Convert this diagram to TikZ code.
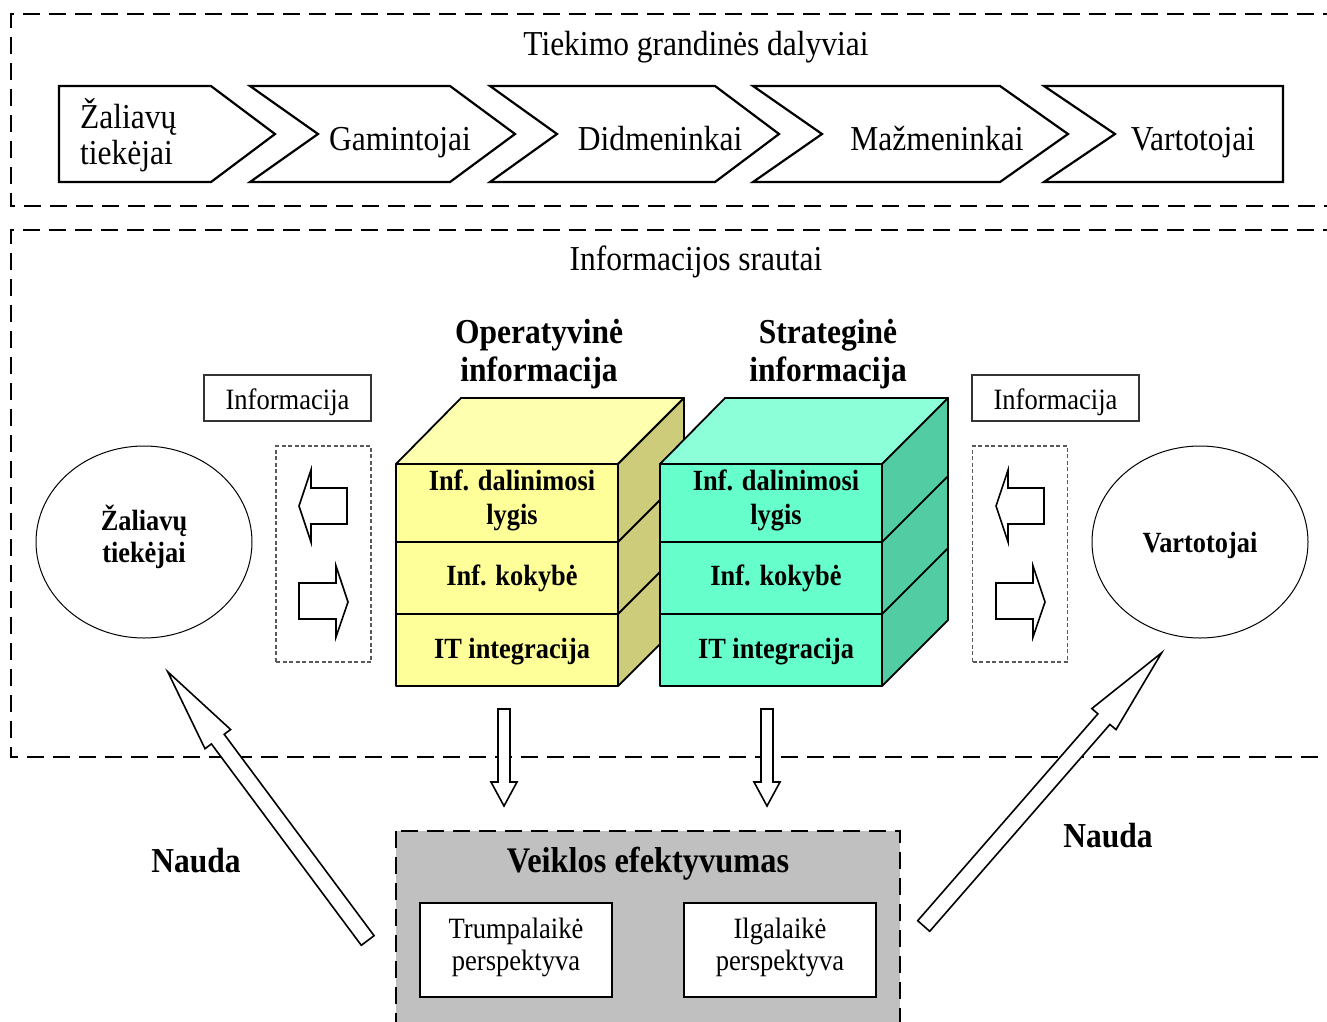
\documentclass[tikz,border=0pt]{standalone}
\usepackage{fontspec}
\setmainfont{Liberation Serif}
\newfontfamily\narrowserif[FakeStretch=0.9]{Liberation Serif}
\usetikzlibrary{shapes.geometric}
\definecolor{opfront}{HTML}{FFFF99}
\definecolor{optop}{HTML}{FFFFB0}
\definecolor{opside}{HTML}{CCCC7A}
\definecolor{stfront}{HTML}{66FFCC}
\definecolor{sttop}{HTML}{8CFFD9}
\definecolor{stside}{HTML}{52CCA3}
\definecolor{perfgray}{HTML}{C0C0C0}
\begin{document}
\begin{tikzpicture}[x=1pt,y=-1pt,
  bigdash/.style={line width=2.4pt, dash pattern=on 17pt off 9pt},
  thindash/.style={draw=black!65, line width=1.1pt, dash pattern=on 4pt off 2.5pt},
  chev/.style={draw=black, line width=2.2pt, fill=white, line join=miter},
  bigtxt/.style={font=\narrowserif\fontsize{35}{40}\selectfont, inner sep=0pt, align=center},
  chevtxt/.style={font=\narrowserif\fontsize{35}{40}\selectfont, inner sep=0pt, anchor=base},
  smalltxt/.style={font=\narrowserif\fontsize{29.5}{35}\selectfont, inner sep=0pt, align=center},
  boldbig/.style={font=\narrowserif\fontsize{35}{38}\selectfont\bfseries, inner sep=0pt, align=center},
  boldsmall/.style={font=\narrowserif\fontsize{29.3}{34}\selectfont\bfseries, inner sep=0pt, align=center},
  cubeline/.style={draw=black, line width=1.8pt, line join=round},
  blockarrow/.style={draw=black, line width=1.6pt, fill=white, line join=miter},
  infobox/.style={draw=black!80, line width=1.1pt, minimum width=167pt, minimum height=46pt, inner sep=0pt},
  partyellipse/.style={draw=black, line width=1pt, ellipse, minimum width=216pt, minimum height=192pt, inner sep=0pt},
  perspbox/.style={draw=black, line width=2pt, fill=white, minimum width=192pt, minimum height=94pt, inner sep=0pt},
]
\clip (0,0) rectangle (1327,1021);
\fill[white] (0,0) rectangle (1327,1021);

% --- supply chain participants ---
\draw[bigdash] (1340,14) -- (11,14) -- (11,206) -- (1340,206);
\node[bigtxt] (chaintitle) at (696,47) {Tiekimo grandinės dalyviai};

\draw[chev] (59,86) -- (211,86) -- (275,134) -- (211,182) -- (59,182) -- cycle;
\draw[chev] (250,86) -- (450,86) -- (515,134) -- (450,182) -- (250,182) -- (318,134) -- cycle;
\draw[chev] (490,86) -- (715,86) -- (779,134) -- (715,182) -- (490,182) -- (557,134) -- cycle;
\draw[chev] (753,86) -- (1000,86) -- (1068,134) -- (1000,182) -- (753,182) -- (822,134) -- cycle;
\draw[chev] (1044,86) -- (1283,86) -- (1283,182) -- (1044,182) -- (1115,134) -- cycle;

\node[bigtxt, font=\narrowserif\fontsize{35}{36}\selectfont, align=left, anchor=west] (c1) at (80,135) {Žaliavų\\tiekėjai};
\node[chevtxt] (c2) at (400,150) {Gamintojai};
\node[chevtxt] (c3) at (660,150) {Didmeninkai};
\node[chevtxt] (c4) at (937,150) {Mažmeninkai};
\node[chevtxt] (c5) at (1193,150) {Vartotojai};

% --- information flows ---
\draw[bigdash] (1340,230) -- (11,230) -- (11,757) -- (1340,757);
\node[bigtxt] (flowtitle) at (696,262) {Informacijos srautai};

\node[boldbig] (optitle) at (539,354) {Operatyvinė\\informacija};
\node[boldbig] (sttitle) at (828,354) {Strateginė\\informacija};

% operational information cube
\begin{scope}
  \filldraw[cubeline, fill=optop] (396,464) -- (461,398) -- (684,398) -- (618,464) -- cycle;
  \filldraw[cubeline, fill=opside] (618,464) -- (684,398) -- (684,620) -- (618,686) -- cycle;
  \draw[cubeline] (618,542) -- (684,476) (618,614) -- (684,548);
  \filldraw[cubeline, fill=opfront] (396,464) rectangle (618,542);
  \filldraw[cubeline, fill=opfront] (396,542) rectangle (618,614);
  \filldraw[cubeline, fill=opfront] (396,614) rectangle (618,686);
\end{scope}
% strategic information cube
\begin{scope}[xshift=264pt]
  \filldraw[cubeline, fill=sttop] (396,464) -- (461,398) -- (684,398) -- (618,464) -- cycle;
  \filldraw[cubeline, fill=stside] (618,464) -- (684,398) -- (684,620) -- (618,686) -- cycle;
  \draw[cubeline] (618,542) -- (684,476) (618,614) -- (684,548);
  \filldraw[cubeline, fill=stfront] (396,464) rectangle (618,542);
  \filldraw[cubeline, fill=stfront] (396,542) rectangle (618,614);
  \filldraw[cubeline, fill=stfront] (396,614) rectangle (618,686);
\end{scope}

\node[boldsmall] (op1) at (512,500) {Inf. dalinimosi\\lygis};
\node[boldsmall] (op2) at (512,578) {Inf. kokybė};
\node[boldsmall] (op3) at (512,652) {IT integracija};
\node[boldsmall] (st1) at (776,500) {Inf. dalinimosi\\lygis};
\node[boldsmall] (st2) at (776,578) {Inf. kokybė};
\node[boldsmall] (st3) at (776,652) {IT integracija};

% partners
\node[partyellipse] (supplier) at (144,542) {};
\node[boldsmall, font=\narrowserif\fontsize{29.3}{32}\selectfont\bfseries] (suppliertxt) at (144,537) {Žaliavų\\tiekėjai};
\node[partyellipse] (consumer) at (1200,542) {};
\node[boldsmall] (consumertxt) at (1200,545) {Vartotojai};

\node[infobox] (infoL) at (287.5,398) {};
\node[smalltxt] (infoLtxt) at (287.5,402) {Informacija};
\node[infobox] (infoR) at (1055.5,398) {};
\node[smalltxt] (infoRtxt) at (1055.5,402) {Informacija};

\node[thindash, minimum width=95pt, minimum height=216pt, inner sep=0pt] (exL) at (323.5,554) {};
\node[thindash, minimum width=95pt, minimum height=216pt, inner sep=0pt] (exR) at (1020,554) {};

% two-way exchange arrows
\foreach \dx in {0,697}{
  \begin{scope}[xshift=\dx pt]
    \draw[blockarrow] (299,506) -- (311,470) -- (311,488) -- (347,488) -- (347,524) -- (311,524) -- (311,542) -- cycle;
    \draw[blockarrow] (348,602) -- (336,566) -- (336,583) -- (299,583) -- (299,619) -- (336,619) -- (336,637) -- cycle;
  \end{scope}
}

% --- performance ---
\filldraw[fill=perfgray, bigdash] (396,831) -- (396,1040) -- (900,1040) -- (900,831) -- cycle;
\node[boldbig, font=\narrowserif\fontsize{36}{38}\selectfont\bfseries] (perftitle) at (648,864) {Veiklos efektyvumas};
\node[perspbox] (shortterm) at (516,950) {};
\node[smalltxt, font=\narrowserif\fontsize{29.5}{32}\selectfont] (shorttxt) at (516,947.5) {Trumpalaikė\\perspektyva};
\node[perspbox] (longterm) at (780,950) {};
\node[smalltxt, font=\narrowserif\fontsize{29.5}{32}\selectfont] (longtxt) at (780,947.5) {Ilgalaikė\\perspektyva};

% arrows from the cubes down to performance
\foreach \cx in {504,767}{
  \draw[blockarrow] (\cx-6,709) -- (\cx+6,709) -- (\cx+6,782) -- (\cx+13,782) -- (\cx,806) -- (\cx-13,782) -- (\cx-6,782) -- cycle;
}

% benefit arrows
\draw[blockarrow] (361.3,945.3) -- (211.4,743.9) -- (205,748.7) -- (167.7,671.7) -- (230.6,729.5) -- (224.2,734.3) -- (374.1,935.7) -- cycle;
\draw[blockarrow] (917.7,920.7) -- (1097.9,713.8) -- (1091.8,708.6) -- (1161.7,652.7) -- (1116,729.6) -- (1109.9,724.4) -- (929.7,931.3) -- cycle;

\node[boldbig] (benefitL) at (196,861) {Nauda};
\node[boldbig] (benefitR) at (1108,836) {Nauda};
\end{tikzpicture}
\end{document}
